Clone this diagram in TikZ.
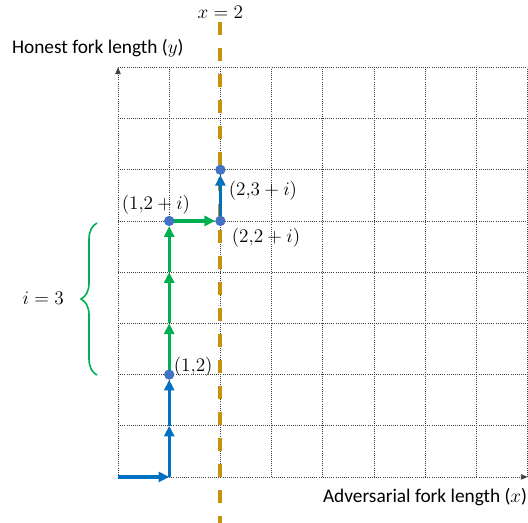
\documentclass[tikz,border=0pt]{standalone}
\usepackage{fontspec}
\setmainfont{Carlito}
\usetikzlibrary{arrows.meta,decorations.pathreplacing}
\definecolor{pblue}{HTML}{0070C0}
\definecolor{pgreen}{HTML}{00B050}
\definecolor{pdot}{HTML}{4472C4}
\definecolor{pgold}{RGB}{198,148,12}
\tikzset{
  gridline/.style={densely dotted, line width=0.6pt, black!75},
  walkblue/.style={pblue, line width=2.4pt, -{Triangle[length=8pt,width=7.5pt]}},
  walkgreen/.style={pgreen, line width=2.4pt, -{Triangle[length=8pt,width=7.5pt]}},
  dot/.style={circle, fill=pdot, inner sep=0pt, minimum size=7.5pt},
  lbl/.style={font=\fontsize{14.5pt}{17pt}\selectfont, inner sep=1pt},
}
\begin{document}
\begin{tikzpicture}[x=38.4pt,y=38.4pt]
\useasboundingbox (-2.305,-0.898) rectangle (8.008,9.316);
% grid
\foreach \i in {1,...,8} {
  \draw[gridline] (\i,0) -- (\i,8);
  \draw[gridline] (0,\i) -- (8,\i);
}
\coordinate (O) at (0,0);
\coordinate (ytop) at (0,8);
\coordinate (xend) at (8,0);
\draw[gridline, -{Triangle[length=5pt,width=4pt]}] (O) -- (ytop);
\draw[gridline, -{Triangle[length=5pt,width=4pt]}] (O) -- (xend);
% dashed x=2 line
\coordinate (dtop) at (2,8.89);
\coordinate (dbot) at (2,-0.898);
\draw[pgold, line width=3pt, dash pattern=on 10pt off 9.5pt] (dtop) -- (dbot);
% walk
\coordinate (p10) at (1,0);
\coordinate (p11) at (1,1);
\node[dot] (p12) at (1,2) {};
\coordinate (p13) at (1,3);
\coordinate (p14) at (1,4);
\node[dot] (p15) at (1,5) {};
\node[dot] (p25) at (2,5) {};
\node[dot] (p26) at (2,6) {};
\draw[walkblue] (O) -- (p10);
\draw[walkblue] (p10) -- (p11);
\draw[walkblue] (p11) -- (p12);
\draw[walkgreen] (p12.center) -- (p13);
\draw[walkgreen] (p13) -- (p14);
\draw[walkgreen] (p14) -- (p15);
\draw[walkgreen] (p15.center) -- (p25);
\draw[walkblue] (p25.center) -- (p26);
\node[dot] at (p12) {};
\node[dot] at (p15) {};
\node[dot] at (p25) {};
\node[dot] at (p26) {};
% labels
\node[lbl] (lx2) at (2.0,9.08) {$x=2$};
\node[lbl, anchor=west] (ly) at (-2.1,8.38) {Honest fork length ($y$)};
\node[lbl, anchor=east] (lxa) at (8.02,-0.39) {Adversarial fork length ($x$)};
\node[lbl, anchor=west] (l12) at (1.06,2.15) {$(1{,}2)$};
\node[lbl] (l15) at (0.74,5.31) {$(1{,}2+i)$};
\node[lbl] (l26) at (2.83,5.6) {$(2{,}3+i)$};
\node[lbl] (l25) at (2.89,4.67) {$(2{,}2+i)$};
% brace
\coordinate (bt) at (-0.41,4.96);
\coordinate (bb) at (-0.41,1.99);
\draw[pgreen, line width=1.2pt, decorate, decoration={brace, amplitude=12pt}] (bb) -- (bt);
\node[lbl] (li) at (-1.46,3.5) {$i=3$};
\end{tikzpicture}
\end{document}
